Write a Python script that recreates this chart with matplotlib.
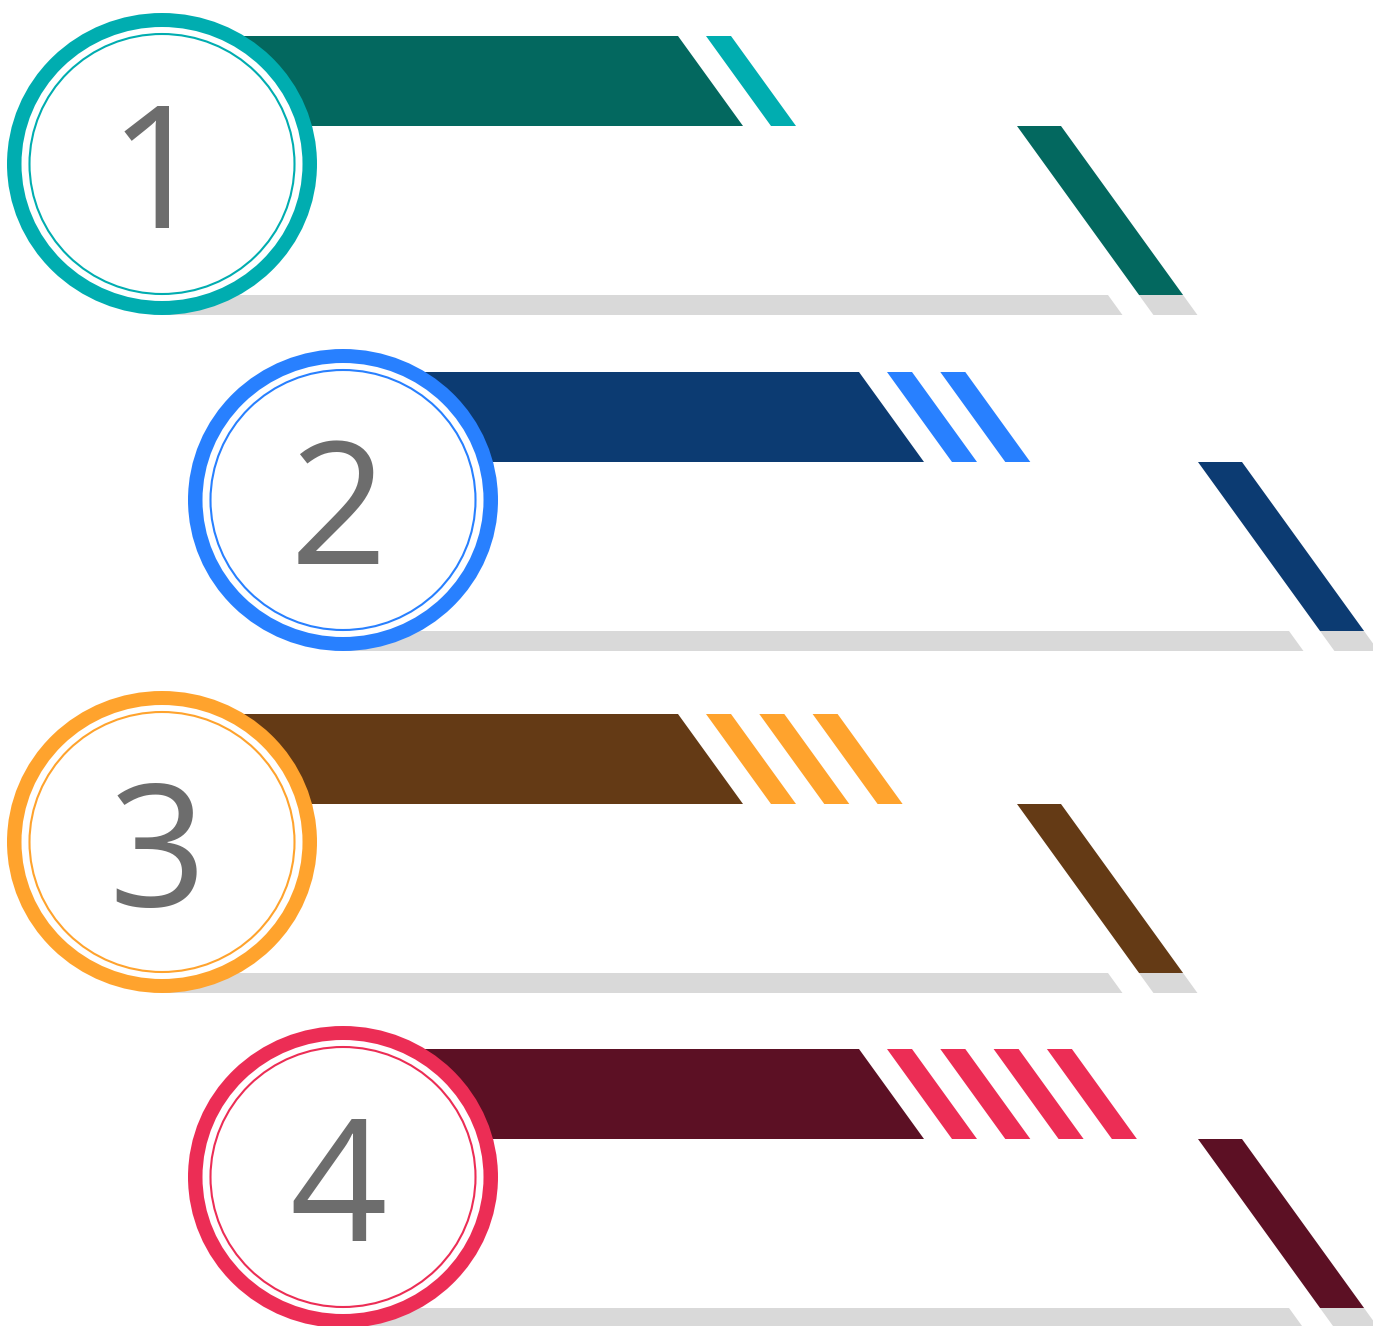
import numpy as np
import matplotlib.pyplot as plt
from matplotlib.patches import Polygon, Ellipse

# step data
labels = ['1', '2', '3', '4']
dark_colors = ['#03685f', '#0c3b72', '#643a15', '#5c1024']
light_colors = ['#00adb0', '#2880ff', '#ffa32d', '#ec2d55']
n_stripes = [1, 2, 3, 4]
x_offsets = [0, 181, 0, 181]
y_offsets = [0, 336, 678, 1013]

shadow_color = '#d9d9d9'
num_color = '#6d6d6d'

W, H = 1373, 1326
fig = plt.figure(figsize=(W / 100, H / 100), dpi=100)
ax = fig.add_axes([0, 0, 1, 1])
ax.set_xlim(0, W)
ax.set_ylim(H, 0)
ax.axis('off')

slope = 65 / 90  # slant of every diagonal edge

def poly(pts, color, z):
    ax.add_patch(Polygon(pts, closed=True, facecolor=color, edgecolor='none', zorder=z))

for i, lab in enumerate(labels):
    ox, oy = x_offsets[i], y_offsets[i]
    cx, cy = 162 + ox, 164 + oy
    top, mid, bot, sh = 36 + oy, 126 + oy, 295 + oy, 315 + oy

    # gray shadow under the panel
    poly([(cx, bot), (1108 + ox, bot), (1108 + ox + 20 * slope, sh), (cx, sh)], shadow_color, 1)
    poly([(1139 + ox, bot), (1183 + ox, bot), (1183 + ox + 20 * slope, sh),
          (1139 + ox + 20 * slope, sh)], shadow_color, 1)

    # header bar
    poly([(cx, top), (678 + ox, top), (678 + ox + 90 * slope, mid), (cx, mid)], dark_colors[i], 2)

    # light stripes
    for k in range(n_stripes[i]):
        x0 = 706 + ox + 53.3 * k
        poly([(x0, top), (x0 + 25, top), (x0 + 25 + 90 * slope, mid), (x0 + 90 * slope, mid)],
             light_colors[i], 2)

    # right slash
    poly([(1017 + ox, mid), (1061 + ox, mid), (1061 + ox + 169 * slope, bot),
          (1017 + ox + 169 * slope, bot)], dark_colors[i], 2)

    # number badge
    ax.add_patch(Ellipse((cx, cy), 310, 302, facecolor=light_colors[i], edgecolor='none', zorder=3))
    ax.add_patch(Ellipse((cx, cy), 281, 274, facecolor='white', edgecolor='none', zorder=4))
    ax.add_patch(Ellipse((cx, cy), 265, 260, facecolor='none', edgecolor=light_colors[i],
                         linewidth=1.5, zorder=5))
    ax.text(cx - 5, cy + 64, lab, fontsize=123, family='Open Sans', color=num_color,
            ha='center', va='baseline', zorder=6)

fig.savefig('out.png', dpi=100, facecolor='white')
